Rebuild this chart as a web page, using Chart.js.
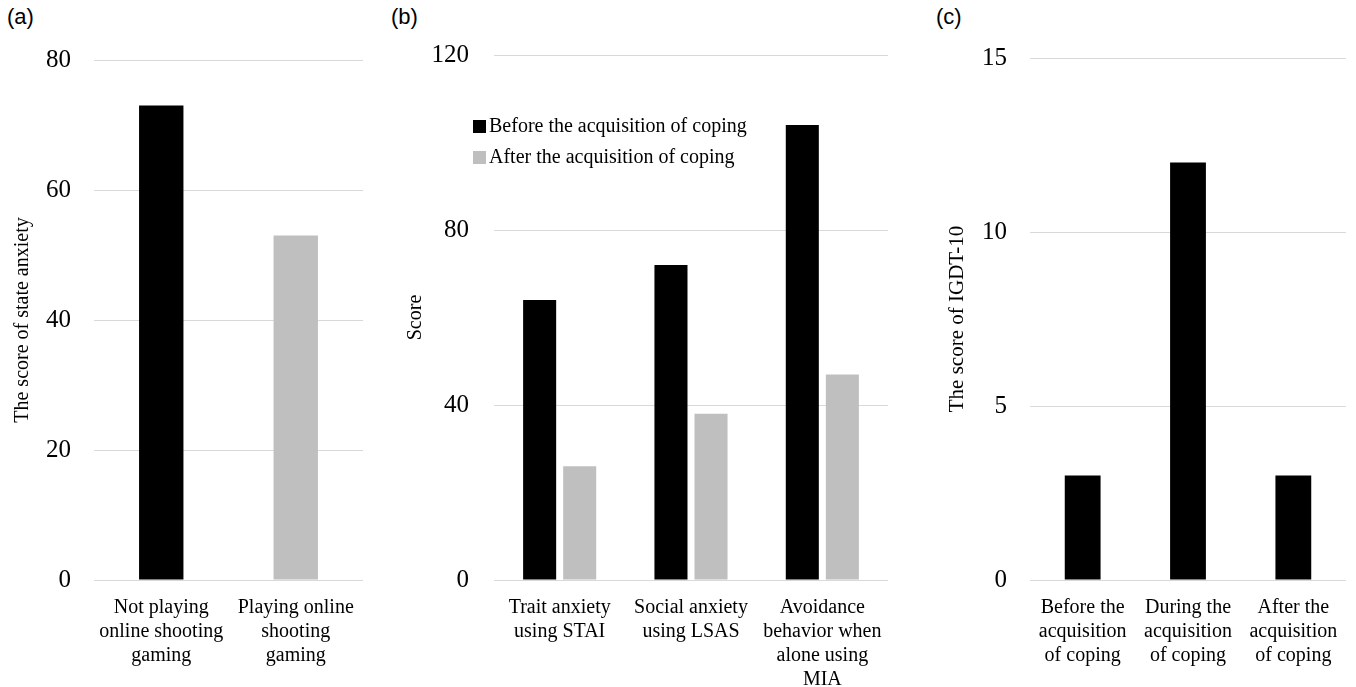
<!DOCTYPE html>
<html>
<head>
<meta charset="utf-8">
<script src="https://cdn.jsdelivr.net/npm/chart.js@4"></script>
<style>
  body { margin: 0; background: #fff; width: 1356px; height: 687px; position: relative; overflow: hidden; }
  canvas { position: absolute; top: 0; }
  .tag { position: absolute; top: 4px; font: 22px "Liberation Sans", Arial, sans-serif; color: #000; }
</style>
</head>
<body>
<div class="tag" style="left:7px">(a)</div>
<div class="tag" style="left:391px">(b)</div>
<div class="tag" style="left:936px">(c)</div>
<canvas id="chartA" width="375" height="687" style="left:0px"></canvas>
<canvas id="chartB" width="520" height="687" style="left:380px"></canvas>
<canvas id="chartC" width="456" height="687" style="left:900px"></canvas>
<script>
// panel (a)
const labelsA = [["Not playing", "online shooting", "gaming"], ["Playing online", "shooting", "gaming"]];
const valuesA = [73, 53];
const colorsA = ["#000000", "#bfbfbf"];

// panel (b)
const labelsB = [["Trait anxiety", "using STAI"], ["Social anxiety", "using LSAS"], ["Avoidance", "behavior when", "alone using", "MIA"]];
const beforeB = [64, 72, 104];
const afterB = [26, 38, 47];

// panel (c)
const labelsC = [["Before the", "acquisition", "of coping"], ["During the", "acquisition", "of coping"], ["After the", "acquisition", "of coping"]];
const valuesC = [3, 12, 3];

const serif = '"Liberation Serif", "Times New Roman", serif';
const gridColor = "#d9d9d9";

function yAxis(max, step, title, width, titlePad, tickPad, titleSize) {
    return {
        min: 0, max: max,
        ticks: { stepSize: step, padding: tickPad, color: "#000", font: { family: serif, size: 25 } },
        grid: { color: gridColor, drawTicks: false },
        border: { display: false },
        title: { display: true, text: title, color: "#000", font: { family: serif, size: titleSize }, padding: { top: titlePad, bottom: 0 } },
        afterFit: function(axis) { axis.width = width; }
    };
}

function xAxis() {
    return {
        ticks: { autoSkip: false, maxRotation: 0, padding: 8, color: "#000", font: { family: serif, size: 20, lineHeight: 1.2 } },
        grid: { display: false },
        border: { display: false },
        afterFit: function(axis) { axis.height = 107; }
    };
}

// legend drawn inside the plot like the original
const innerLegend = {
    id: "innerLegend",
    afterDraw(chart) {
        const ctx = chart.ctx;
        ctx.save();
        ctx.font = "20px " + serif;
        ctx.textBaseline = "middle";
        chart.data.datasets.forEach(function(ds, i) {
            const y = 126 + i * 31;
            ctx.fillStyle = ds.backgroundColor;
            ctx.fillRect(93, y - 6, 13, 13);
            ctx.fillStyle = "#000";
            ctx.fillText(ds.label, 109, y + 1);
        });
        ctx.restore();
    }
};

new Chart(document.getElementById("chartA"), {
    type: "bar",
    data: {
        labels: labelsA,
        datasets: [{ data: valuesA, backgroundColor: colorsA, categoryPercentage: 1, barPercentage: 0.33 }]
    },
    options: {
        responsive: false, animation: false,
        layout: { padding: { top: 60, right: 12, left: 0, bottom: 0 } },
        plugins: { legend: { display: false }, tooltip: { enabled: false } },
        scales: { x: xAxis(), y: yAxis(80, 20, "The score of state anxiety", 94, 11, 23, 20) }
    }
});

new Chart(document.getElementById("chartB"), {
    type: "bar",
    data: {
        labels: labelsB,
        datasets: [
            { label: "Before the acquisition of coping", data: beforeB, backgroundColor: "#000000", categoryPercentage: 0.61, barPercentage: 0.825 },
            { label: "After the acquisition of coping", data: afterB, backgroundColor: "#bfbfbf", categoryPercentage: 0.61, barPercentage: 0.825 }
        ]
    },
    options: {
        responsive: false, animation: false,
        layout: { padding: { top: 55, right: 12, left: 0, bottom: 0 } },
        plugins: { legend: { display: false }, tooltip: { enabled: false } },
        scales: { x: xAxis(), y: yAxis(120, 40, "Score", 114, 24, 25, 20) }
    },
    plugins: [innerLegend]
});

new Chart(document.getElementById("chartC"), {
    type: "bar",
    data: {
        labels: labelsC,
        datasets: [{ data: valuesC, backgroundColor: "#000000", categoryPercentage: 1, barPercentage: 0.34 }]
    },
    options: {
        responsive: false, animation: false,
        layout: { padding: { top: 58, right: 10, left: 0, bottom: 0 } },
        plugins: { legend: { display: false }, tooltip: { enabled: false } },
        scales: { x: xAxis(), y: yAxis(15, 5, "The score of IGDT-10", 130, 45, 23, 21) }
    }
});
</script>
</body>
</html>
